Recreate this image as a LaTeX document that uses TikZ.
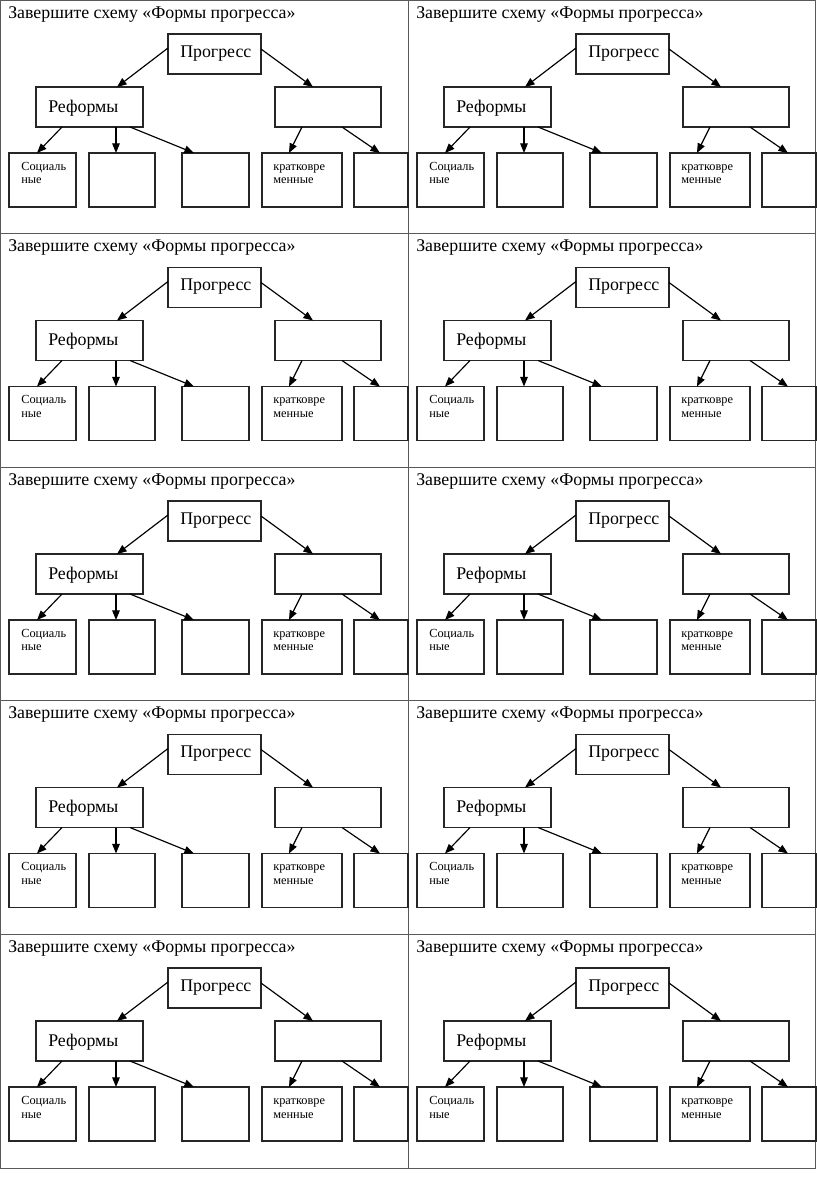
\documentclass[tikz,border=0pt]{standalone}
\usepackage{fontspec}
\setmainfont{Liberation Serif}
\usetikzlibrary{arrows.meta}
\newcommand\pxu{0.7292pt}
\tikzset{
  box/.style={draw=black!85, line width=0.85pt, inner sep=0pt, outer sep=0pt, anchor=north west},
  arr/.style={-{Triangle[length=7pt,width=5.5pt]}, line width=0.85pt},
  gridline/.style={draw=black!65, line width=0.7pt},
  big/.style={font=\fontsize{13}{15}\selectfont, inner sep=0pt, anchor=base west},
  small/.style={font=\fontsize{9}{10.2}\selectfont, inner sep=0pt, anchor=base west}
}
\begin{document}
\begin{tikzpicture}[x=0.7292pt, y=-0.7292pt]
\useasboundingbox (0,0) rectangle (816,1191);
\fill[white] (0,0) rectangle (816,1191);
% table
\draw[gridline] (0.5,0.5) rectangle (815,1168);
\draw[gridline] (408,0.5) -- (408,1168);
\foreach \k in {1,2,3,4} \draw[gridline] (0.5,233.5*\k) -- (815,233.5*\k);
% cells
\foreach \r in {0,...,4}{
\foreach \c in {0,1}{
\begin{scope}[shift={(408*\c,233.5*\r)}]
\node[big] (t-\r-\c) at (8,18) {Завершите схему «Формы прогресса»};
\node[box, minimum width={93*\pxu}, minimum height={40*\pxu},
  label={[big, xshift={12*\pxu}, yshift={-23*\pxu}]north west:Прогресс}] (p-\r-\c) at (168,34) {};
\node[box, minimum width={107*\pxu}, minimum height={40*\pxu},
  label={[big, xshift={12*\pxu}, yshift={-25*\pxu}]north west:Реформы}] (r-\r-\c) at (36,87) {};
\node[box, minimum width={106*\pxu}, minimum height={40*\pxu}] (m-\r-\c) at (275,87) {};
\node[box, minimum width={67*\pxu}, minimum height={54*\pxu},
  label={[small, xshift={12*\pxu}, yshift={-17*\pxu}]north west:{\vtop{\hbox{Социаль}\hbox{ные}}}}] (b1-\r-\c) at (9,153) {};
\node[box, minimum width={66*\pxu}, minimum height={54*\pxu}] (b2-\r-\c) at (89,153) {};
\node[box, minimum width={67*\pxu}, minimum height={54*\pxu}] (b3-\r-\c) at (182,153) {};
\node[box, minimum width={80*\pxu}, minimum height={54*\pxu},
  label={[small, xshift={11*\pxu}, yshift={-17*\pxu}]north west:{\vtop{\hbox{кратковре}\hbox{менные}}}}] (b4-\r-\c) at (262,153) {};
\node[box, minimum width={54*\pxu}, minimum height={54*\pxu}] (b5-\r-\c) at (354,153) {};
\draw[arr] ([yshift={-14*\pxu}]p-\r-\c.north west) -- ([xshift={81*\pxu}]r-\r-\c.north west);
\draw[arr] ([yshift={-15*\pxu}]p-\r-\c.north east) -- ([xshift={38*\pxu}]m-\r-\c.north west);
\draw[arr] ([xshift={26*\pxu}]r-\r-\c.south west) -- ([xshift={28*\pxu}]b1-\r-\c.north west);
\draw[arr] ([xshift={80*\pxu}]r-\r-\c.south west) -- ([xshift={27*\pxu}]b2-\r-\c.north west);
\draw[arr] ([xshift={94*\pxu}]r-\r-\c.south west) -- ([xshift={12*\pxu}]b3-\r-\c.north west);
\draw[arr] ([xshift={27*\pxu}]m-\r-\c.south west) -- ([xshift={27*\pxu}]b4-\r-\c.north west);
\draw[arr] ([xshift={67*\pxu}]m-\r-\c.south west) -- ([xshift={26*\pxu}]b5-\r-\c.north west);
\end{scope}
}}
\end{tikzpicture}
\end{document}
